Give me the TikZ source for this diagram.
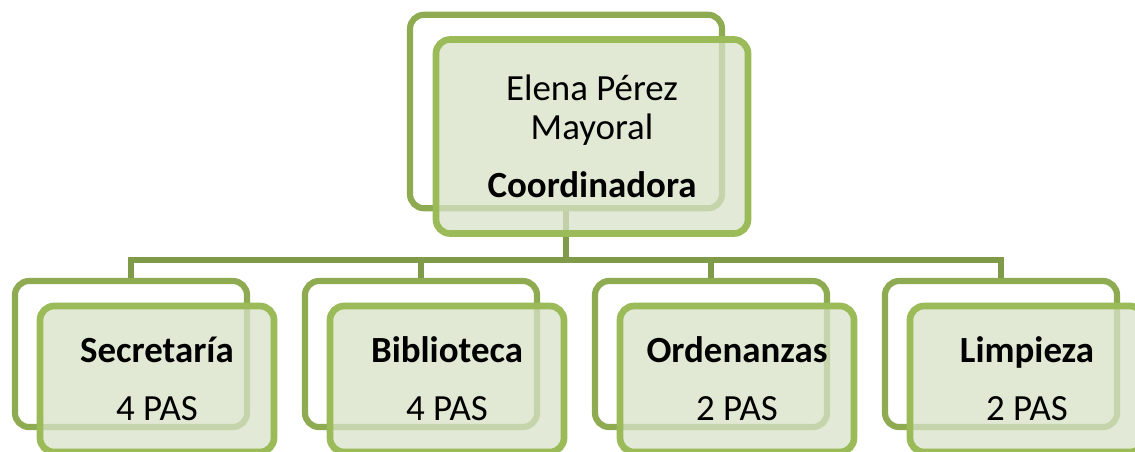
\documentclass[tikz,border=0pt]{standalone}
\usepackage{fontspec}
\setmainfont{Carlito}
\definecolor{olivebar}{HTML}{7F9B49}
\definecolor{oliveback}{HTML}{8FAB52}
\definecolor{olivefront}{HTML}{9BBB59}
\definecolor{olivefill}{HTML}{D8E2C8}
\tikzset{
  backbox/.style={draw=oliveback, line width=3.5pt, rounded corners=8pt, fill=white,
    minimum width=4.64cm, minimum height=2.92cm, inner sep=0pt},
  frontbox/.style={draw=olivefront, line width=3.8pt, rounded corners=8pt,
    fill=olivefill, fill opacity=0.75, text opacity=1,
    minimum width=4.68cm, minimum height=2.92cm, inner sep=0pt, align=center,
    font=\fontsize{21}{22}\selectfont},
  conn/.style={draw=olivebar, line width=3.2pt},
}
\begin{document}
\begin{tikzpicture}
            \useasboundingbox (0,0) rectangle (22.7,-9.02);

            % coordinadora
            \node[backbox, minimum width=6.24cm, minimum height=3.87cm] (coord-back) at (11.32,-2.23) {};

            % departamentos
            \foreach \name/\x in {sec/2.62, bib/8.42, ord/14.22, lim/20.02}
                \node[backbox] (\name-back) at (\x,-7.08) {};

            \foreach \name in {sec, bib, ord, lim}
                \draw[conn] (coord-back.south) -- ++(0,-0.975) -| (\name-back.north);

            \node[frontbox, minimum width=6.24cm, minimum height=3.88cm] (coord-front)
                at ([shift={(0.52,-0.5)}]coord-back.center)
                {Elena Pérez\\Mayoral\\[11pt]\textbf{Coordinadora}};

            \foreach \name/\title/\staff in {sec/Secretaría/4, bib/Biblioteca/4, ord/Ordenanzas/2, lim/Limpieza/2}
                \node[frontbox] (\name-front) at ([shift={(0.52,-0.5)}]\name-back.center)
                    {\textbf{\title}\\[11pt]\staff{} PAS};
        \end{tikzpicture}
\end{document}
